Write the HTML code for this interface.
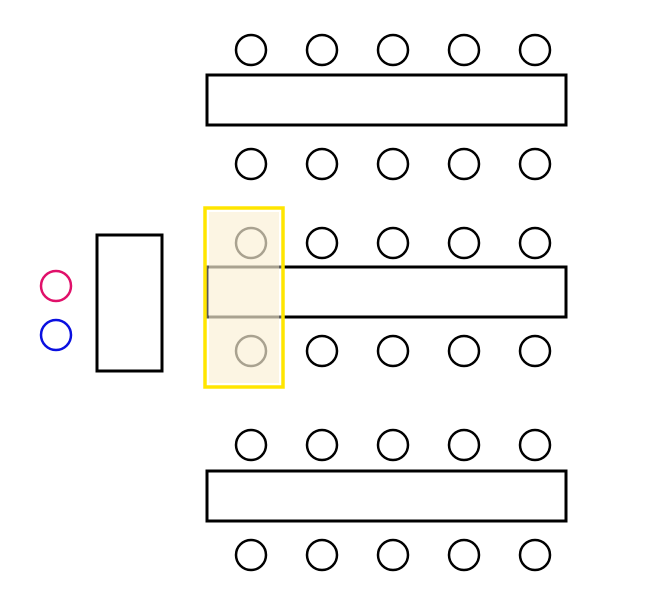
<!DOCTYPE html>
<html><head><style>body{margin:0;background:#fff}</style></head><body>
<svg width="652" height="596" xmlns="http://www.w3.org/2000/svg">
<g fill="none" stroke="#000" stroke-width="3">
<rect x="207" y="75" width="359" height="50"/>
<rect x="207" y="267" width="359" height="50"/>
<rect x="207" y="471" width="359" height="50"/>
<rect x="97" y="235" width="65" height="136"/>
<g stroke-width="2.5">
<circle cx="251" cy="50" r="15"/><circle cx="322" cy="50" r="15"/><circle cx="393" cy="50" r="15"/><circle cx="464" cy="50" r="15"/><circle cx="535" cy="50" r="15"/>
<circle cx="251" cy="164" r="15"/><circle cx="322" cy="164" r="15"/><circle cx="393" cy="164" r="15"/><circle cx="464" cy="164" r="15"/><circle cx="535" cy="164" r="15"/>
<circle cx="251" cy="243" r="15"/><circle cx="322" cy="243" r="15"/><circle cx="393" cy="243" r="15"/><circle cx="464" cy="243" r="15"/><circle cx="535" cy="243" r="15"/>
<circle cx="251" cy="351" r="15"/><circle cx="322" cy="351" r="15"/><circle cx="393" cy="351" r="15"/><circle cx="464" cy="351" r="15"/><circle cx="535" cy="351" r="15"/>
<circle cx="251" cy="445" r="15"/><circle cx="322" cy="445" r="15"/><circle cx="393" cy="445" r="15"/><circle cx="464" cy="445" r="15"/><circle cx="535" cy="445" r="15"/>
<circle cx="251" cy="555" r="15"/><circle cx="322" cy="555" r="15"/><circle cx="393" cy="555" r="15"/><circle cx="464" cy="555" r="15"/><circle cx="535" cy="555" r="15"/>
<circle cx="56" cy="286" r="15" stroke="#e0106a"/>
<circle cx="56" cy="335" r="15" stroke="#0a10e0"/>
</g>
</g>
<rect x="205" y="208" width="78" height="179" fill="#fff" fill-opacity="0.35"/>
<rect x="209" y="212" width="70" height="171" fill="#faebc8" fill-opacity="0.5"/>
<rect x="205" y="208" width="78" height="179" fill="none" stroke="#ffe500" stroke-width="3.5"/>
</svg>
</body></html>
